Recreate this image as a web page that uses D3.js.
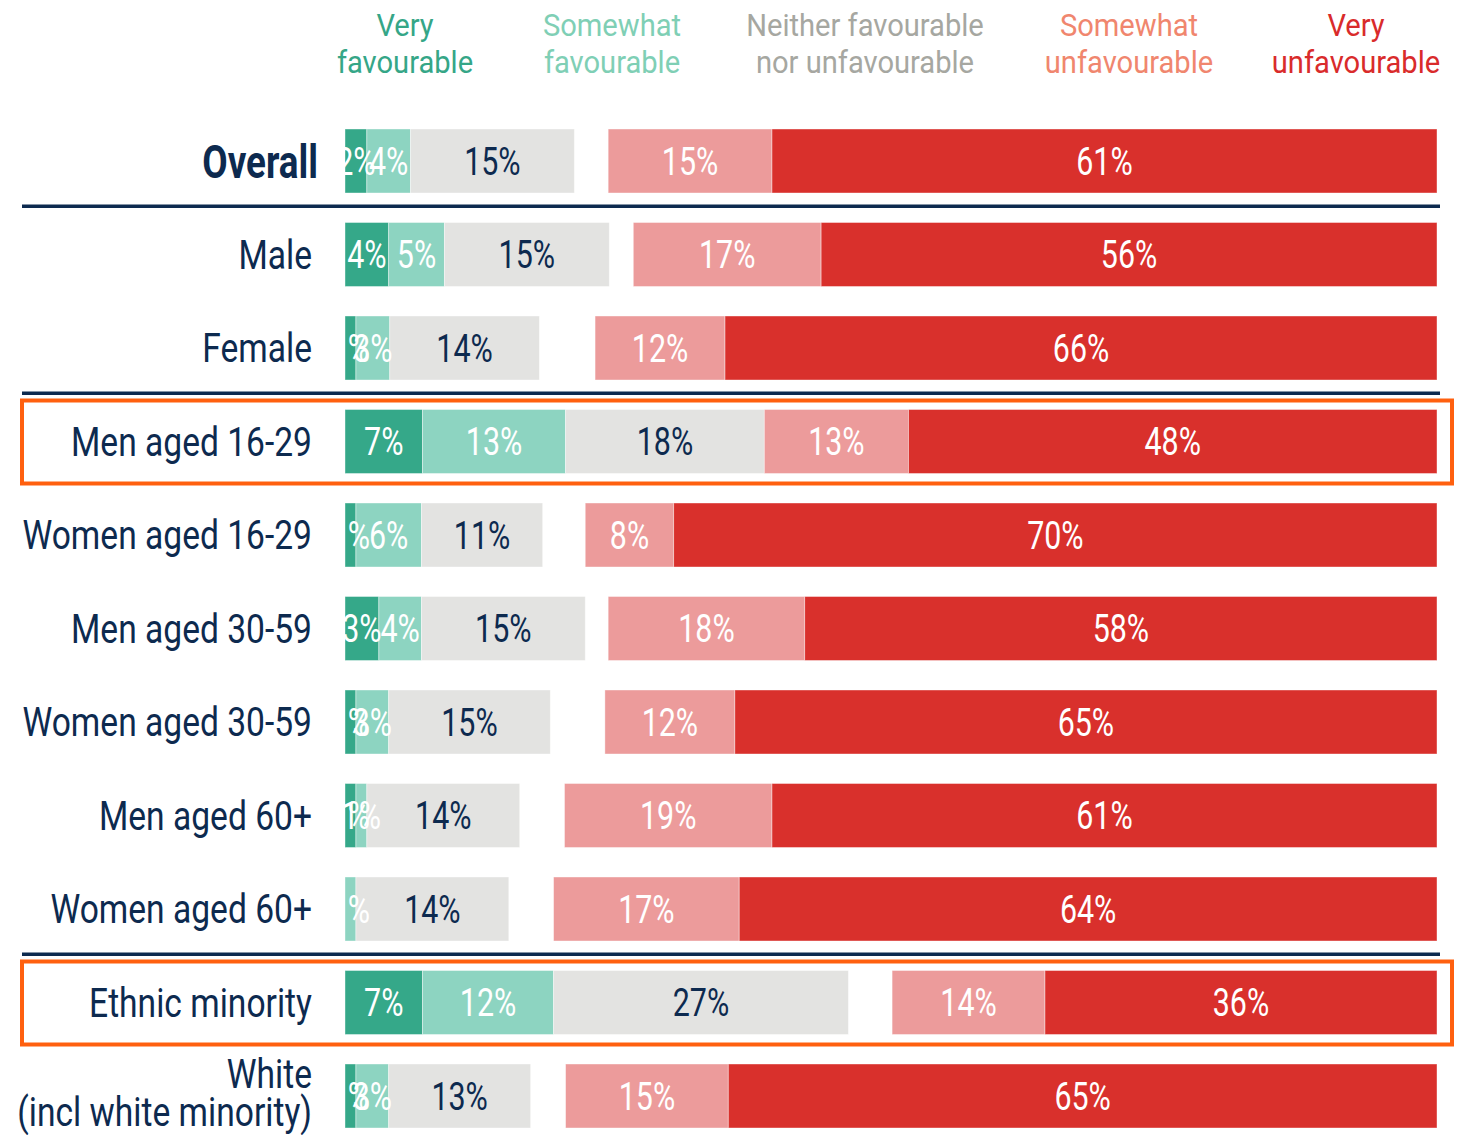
<!DOCTYPE html>
<html>
<head>
<meta charset="utf-8">
<script src="https://cdn.jsdelivr.net/npm/d3@7"></script>
<style>
  html, body { margin: 0; padding: 0; background: #ffffff; }
  svg text { font-family: Roboto, "Liberation Sans", sans-serif; }
</style>
</head>
<body>
<svg id="chart" width="1458" height="1135"></svg>
<script>
// ---- data ----
const categories = ["Overall", "Male", "Female", "Men aged 16-29", "Women aged 16-29",
  "Men aged 30-59", "Women aged 30-59", "Men aged 60+", "Women aged 60+",
  "Ethnic minority", "White (incl white minority)"];
const categoryLines = [["Overall"], ["Male"], ["Female"], ["Men aged 16-29"], ["Women aged 16-29"],
  ["Men aged 30-59"], ["Women aged 30-59"], ["Men aged 60+"], ["Women aged 60+"],
  ["Ethnic minority"], ["White", "(incl white minority)"]];
const seriesNames = ["Very favourable", "Somewhat favourable",
  "Neither favourable nor unfavourable", "Somewhat unfavourable", "Very unfavourable"];
const headerLines = [["Very", "favourable"], ["Somewhat", "favourable"],
  ["Neither favourable", "nor unfavourable"], ["Somewhat", "unfavourable"], ["Very", "unfavourable"]];

// bar lengths (percent)
const veryFav       = [2.0, 4.0, 1.0, 7.1, 1.0, 3.1, 1.0, 1.0, 0.0, 7.1, 1.0];
const somewhatFav   = [4.0, 5.1, 3.1, 13.1, 6.0, 3.9, 3.0, 1.0, 1.0, 12.0, 3.0];
const neither       = [15.0, 15.1, 13.7, 18.2, 11.1, 15.0, 14.8, 14.0, 14.0, 27.0, 13.0];
const somewhatUnfav = [15.0, 17.2, 11.9, 13.2, 8.1, 18.0, 11.9, 19.0, 17.0, 14.0, 14.9];
const veryUnfav     = [60.9, 56.4, 65.2, 48.4, 69.9, 57.9, 64.3, 60.9, 63.9, 35.9, 64.9];

// printed labels (percent)
const veryFavLbl       = [2, 4, 1, 7, 1, 3, 1, 1, null, 7, 1];
const somewhatFavLbl   = [4, 5, 3, 13, 6, 4, 3, 1, 1, 12, 3];
const neitherLbl       = [15, 15, 14, 18, 11, 15, 15, 14, 14, 27, 13];
const somewhatUnfavLbl = [15, 17, 12, 13, 8, 18, 12, 19, 17, 14, 15];
const veryUnfavLbl     = [61, 56, 66, 48, 70, 58, 65, 61, 64, 36, 65];

const separatorsAfter = ["Overall", "Female", "Women aged 60+"];
const highlighted = ["Men aged 16-29", "Ethnic minority"];

// ---- styles / layout ----
const fills = ["#35a889", "#8dd4c1", "#e3e3e1", "#ec9b9b", "#d9302c"];
const headerColors = ["#35a687", "#7fcfb5", "#a6a7a1", "#f0866e", "#d92b2b"];
const labelColors = ["#ffffff", "#ffffff", "#0d2a4f", "#ffffff", "#ffffff"];
const navy = "#0d2a4f";
const orange = "#ff600f";
const headerX = [405, 612, 865, 1129, 1356];

const svg = d3.select("#chart");
const x = d3.scaleLinear().domain([0, 100]).range([345, 1437]);
const y = d3.scalePoint().domain(categories).range([161, 1096]);
const barH = 64;

const valueArrays = [veryFav, somewhatFav, neither, somewhatUnfav, veryUnfav];
const labelArrays = [veryFavLbl, somewhatFavLbl, neitherLbl, somewhatUnfavLbl, veryUnfavLbl];

// condensed text helper (horizontal squeeze)
function ctext(parent, px, py, str, o) {
  const g = parent.append("g").attr("transform", `translate(${px},${py}) scale(${o.sx},1)`);
  return g.append("text")
    .attr("x", 0).attr("y", 0)
    .attr("dy", o.dy || 0)
    .attr("text-anchor", o.anchor || "middle")
    .attr("font-size", o.size)
    .attr("font-weight", o.weight || "normal")
    .attr("fill", o.fill)
    .text(str);
}

// build segments
const segments = [];
categories.forEach((cat, i) => {
  let acc = 0;
  for (let s = 0; s < 3; s++) {
    const v = valueArrays[s][i];
    segments.push({cat, s, x0: acc, x1: acc + v, label: labelArrays[s][i]});
    acc += v;
  }
  let r = 100 - (somewhatUnfav[i] + veryUnfav[i]);
  for (let s = 3; s < 5; s++) {
    const v = valueArrays[s][i];
    segments.push({cat, s, x0: r, x1: r + v, label: labelArrays[s][i]});
    r += v;
  }
});

// header
const hdr = svg.append("g");
seriesNames.forEach((name, s) => {
  headerLines[s].forEach((ln, k) => {
    ctext(hdr, headerX[s], 36 + k * 37, ln, {sx: 0.91, size: 32, fill: headerColors[s]});
  });
});

// separators
separatorsAfter.forEach(cat => {
  const i = categories.indexOf(cat);
  const yy = (y(categories[i]) + y(categories[i + 1])) / 2 - 1.5;
  svg.append("line").attr("x1", 22).attr("x2", 1440).attr("y1", yy).attr("y2", yy)
    .attr("stroke", navy).attr("stroke-width", 3.5);
});

// bars
const bars = svg.append("g");
bars.selectAll("rect").data(segments.filter(d => d.x1 > d.x0)).join("rect")
  .attr("x", d => x(d.x0))
  .attr("y", d => y(d.cat) - barH / 2)
  .attr("width", d => x(d.x1) - x(d.x0))
  .attr("height", barH)
  .attr("fill", d => fills[d.s])
  .attr("stroke", "#ffffff").attr("stroke-opacity", 0.5).attr("stroke-width", 0.8);

// value labels
const vl = svg.append("g");
segments.filter(d => d.label !== null).forEach(d => {
  ctext(vl, (x(d.x0) + x(d.x1)) / 2, y(d.cat), d.label + "%",
    {sx: 0.8, size: 38, dy: "0.36em", fill: labelColors[d.s]});
});

// category labels
const cl = svg.append("g");
categories.forEach((cat, i) => {
  const lines = categoryLines[i];
  if (cat === "Overall") {
    ctext(cl, 318, y(cat), lines[0], {sx: 0.8, size: 46, weight: "bold", dy: "0.36em", anchor: "end", fill: navy});
  } else if (lines.length === 2) {
    ctext(cl, 312, y(cat) - 8, lines[0], {sx: 0.84, size: 40, anchor: "end", fill: navy});
    ctext(cl, 312, y(cat) + 30, lines[1], {sx: 0.84, size: 40, anchor: "end", fill: navy});
  } else {
    ctext(cl, 312, y(cat), lines[0], {sx: 0.84, size: 40, dy: "0.36em", anchor: "end", fill: navy});
  }
});

// highlight boxes
highlighted.forEach(cat => {
  svg.append("rect").attr("x", 22).attr("y", y(cat) - 41)
    .attr("width", 1430).attr("height", 83)
    .attr("fill", "none").attr("stroke", orange).attr("stroke-width", 4);
});
</script>
</body>
</html>
